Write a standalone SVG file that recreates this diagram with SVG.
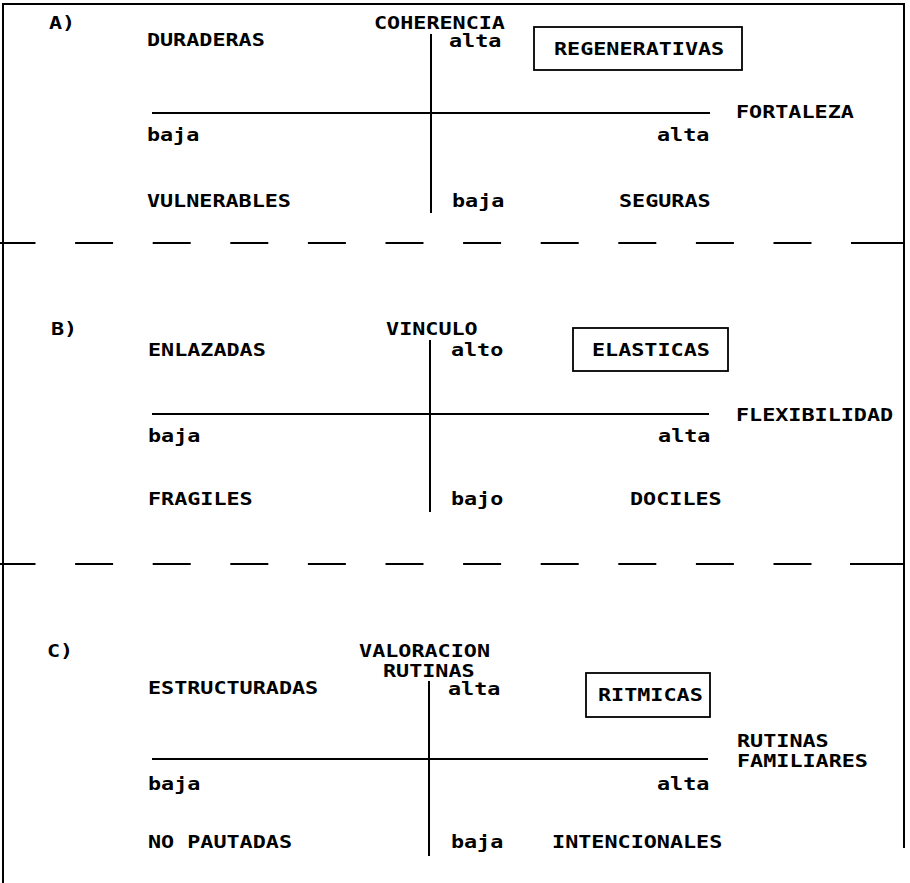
<svg xmlns="http://www.w3.org/2000/svg" width="910" height="883" viewBox="0 0 910 883">
<style>
text{font-family:"DejaVu Sans Mono","Liberation Mono",monospace;font-weight:bold;font-size:17px;fill:#000}
.ln{stroke:#000;stroke-width:2;fill:none}
.bx{stroke:#000;stroke-width:1.8;fill:none}
.dash{stroke:#000;stroke-width:2;fill:none;stroke-dasharray:38 39.6}
</style>
<rect width="910" height="883" fill="#fff"/>
<g id="frame">
<path class="ln" d="M4 4 H904 M3 3 V883 M904 3 V848"/>
<line class="dash" x1="-2.5" y1="243" x2="889" y2="243"/>
<line class="ln" x1="851" y1="243" x2="905" y2="243"/>
<line class="dash" x1="-2.5" y1="564" x2="889" y2="564"/>
<line class="ln" x1="850" y1="564" x2="905" y2="564"/>
</g>
<g id="connectors">
<line class="ln" x1="431" y1="34" x2="431" y2="213"/>
<line class="ln" x1="152" y1="113" x2="710" y2="113"/>
<line class="ln" x1="430" y1="340" x2="430" y2="512"/>
<line class="ln" x1="152" y1="414" x2="709" y2="414"/>
<line class="ln" x1="429" y1="681" x2="429" y2="856"/>
<line class="ln" x1="152" y1="759" x2="708" y2="759"/>
</g>
<g id="sectionA">
<g transform="scale(1.28 1)">
<text x="38.3" y="29">A)</text>
<text x="292.2" y="29">COHERENCIA</text>
<text x="114.8" y="46">DURADERAS</text>
<text x="350.8" y="47">alta</text>
<text x="575.0" y="118">FORTALEZA</text>
<text x="114.8" y="141">baja</text>
<text x="513.3" y="141">alta</text>
<text x="114.8" y="207">VULNERABLES</text>
<text x="353.1" y="207">baja</text>
<text x="483.6" y="207">SEGURAS</text>
</g>
</g>
<g id="box-regenerativas">
<rect class="bx" x="534" y="27" width="208" height="43"/>
<text transform="scale(1.28 1)" x="432.8" y="55">REGENERATIVAS</text>
</g>
<g id="sectionB">
<g transform="scale(1.28 1)">
<text x="39.8" y="335">B)</text>
<text x="301.6" y="335">VINCULO</text>
<text x="115.6" y="356">ENLAZADAS</text>
<text x="352.3" y="356">alto</text>
<text x="575.0" y="421">FLEXIBILIDAD</text>
<text x="115.6" y="442">baja</text>
<text x="514.1" y="442">alta</text>
<text x="115.6" y="505">FRAGILES</text>
<text x="352.3" y="505">bajo</text>
<text x="492.2" y="505">DOCILES</text>
</g>
</g>
<g id="box-elasticas">
<rect class="bx" x="573" y="328" width="155" height="43"/>
<text transform="scale(1.28 1)" x="462.5" y="356">ELASTICAS</text>
</g>
<g id="sectionC">
<g transform="scale(1.28 1)">
<text x="36.7" y="657">C)</text>
<text x="280.5" y="657">VALORACION</text>
<text x="299.2" y="677">RUTINAS</text>
<text x="115.6" y="694">ESTRUCTURADAS</text>
<text x="350" y="695">alta</text>
<text x="575.8" y="747">RUTINAS</text>
<text x="575.8" y="767">FAMILIARES</text>
<text x="115.6" y="790">baja</text>
<text x="513.3" y="790">alta</text>
<text x="115.6" y="848">NO PAUTADAS</text>
<text x="352.3" y="848">baja</text>
<text x="431.3" y="848">INTENCIONALES</text>
</g>
</g>
<g id="box-ritmicas">
<rect class="bx" x="586" y="673" width="124" height="44"/>
<text transform="scale(1.28 1)" x="467.2" y="701">RITMICAS</text>
</g>
</svg>
